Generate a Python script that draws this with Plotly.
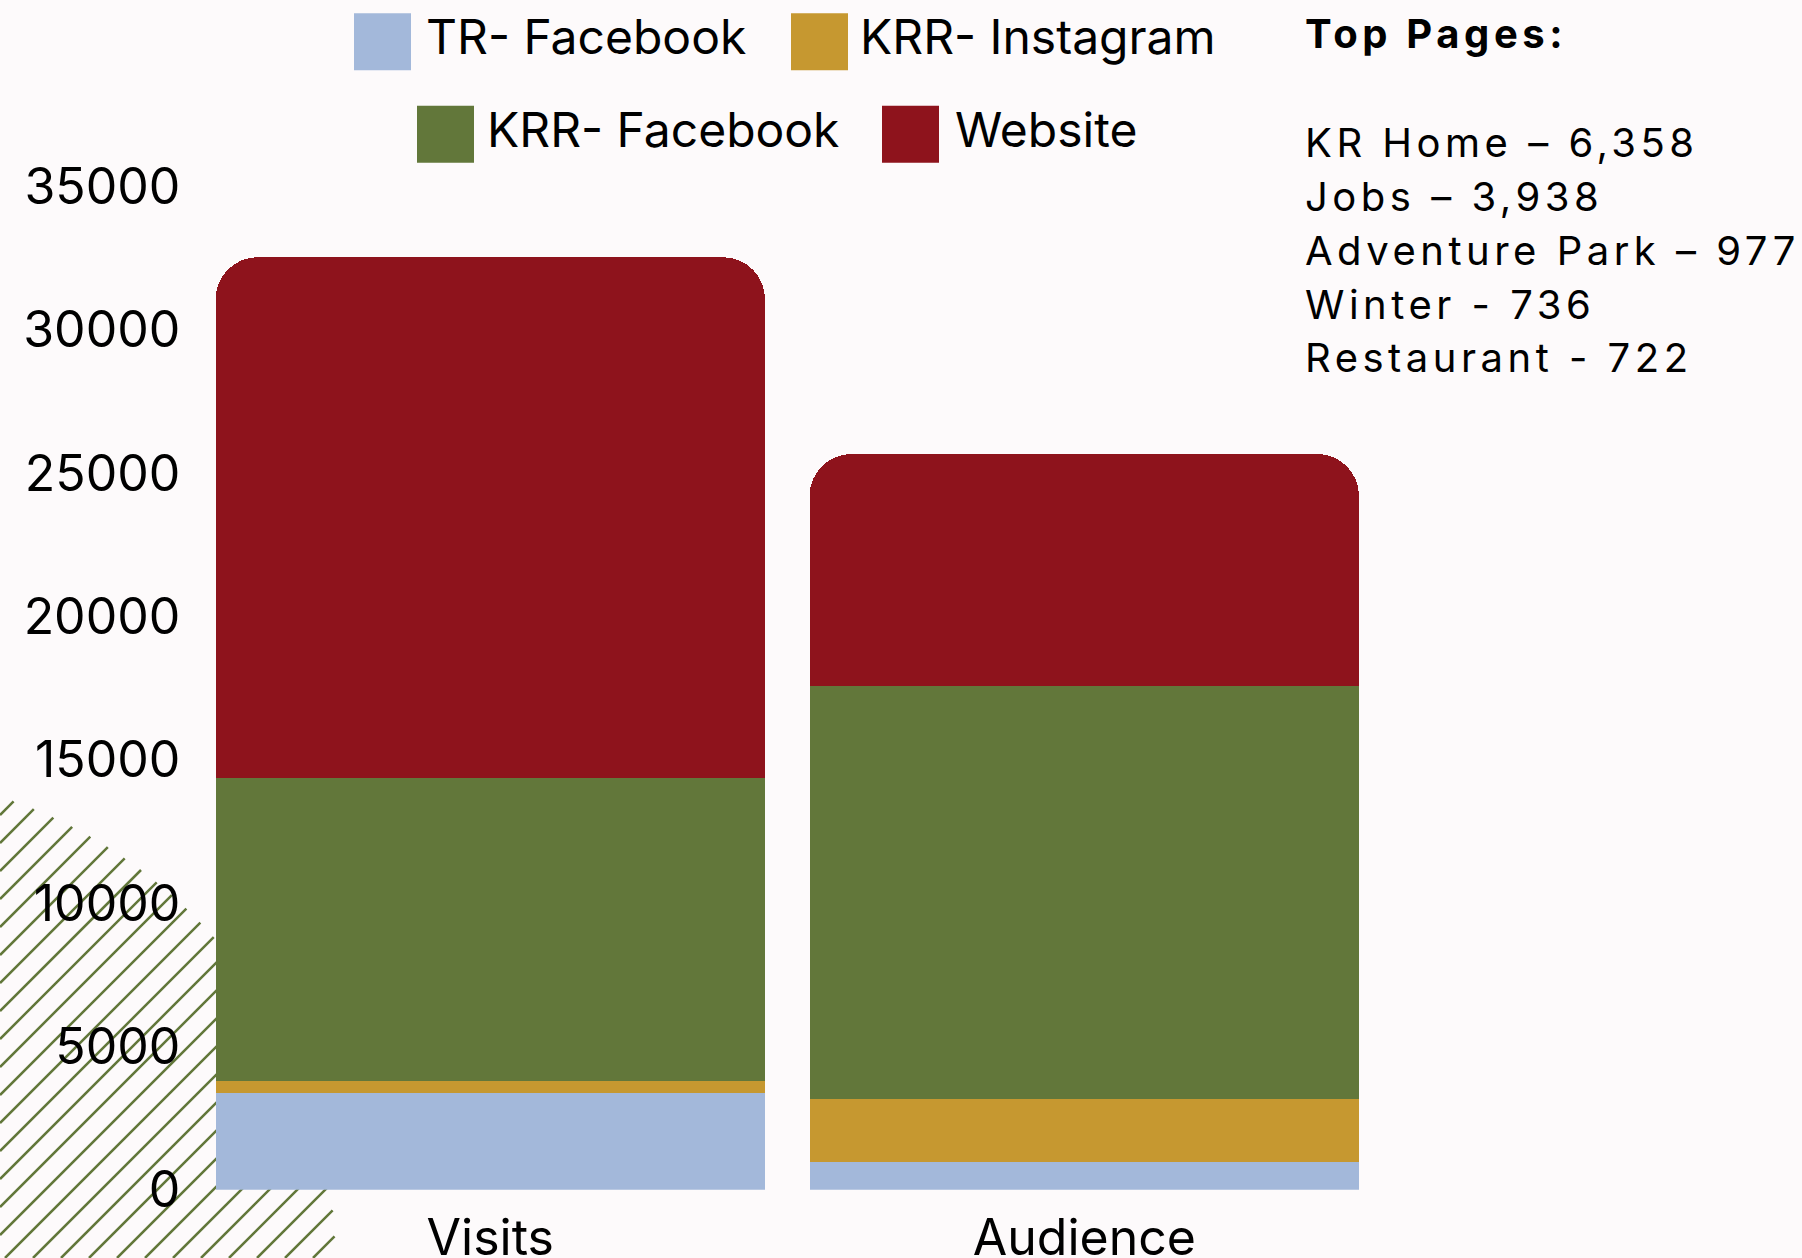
import numpy as np
import plotly.graph_objects as go

# ---------------- data ----------------
categories = ["Visits", "Audience"]
series_names = ["TR- Facebook", "KRR- Instagram", "KRR- Facebook", "Website"]
tr_facebook = [3375, 977]
krr_instagram = [420, 2190]
krr_facebook = [10580, 14410]
website = [18160, 8095]
y_tick_values = [0, 5000, 10000, 15000, 20000, 25000, 30000, 35000]
top_pages_title = "Top Pages:"
top_pages = [
    "KR Home \u2013 6,358",
    "Jobs \u2013 3,938",
    "Adventure Park \u2013 977",
    "Winter - 736",
    "Restaurant - 722",
]

# ---------------- style ----------------
W, H = 1802, 1258
BG = "#FDFAFB"
colors = ["#A3B8DA", "#C69830", "#62773A", "#8E131C"]
HATCH = "#62773A"
FONT = "Inter"

def px(x):
    return x / W

def py(y):
    return 1 - y / H

series_values = [tr_facebook, krr_instagram, krr_facebook, website]

fig = go.Figure()
for name, vals, col in zip(series_names, series_values, colors):
    fig.add_trace(go.Bar(
        x=categories, y=vals, name=name,
        marker=dict(color=col, line=dict(width=0)),
        showlegend=False,
    ))

# plot area in pixels
PL, PR, PT, PB = 193.3, 1381.3, 186.6, 1189.7

shapes = []
annotations = []

# ---- hatched quarter-circle decoration (bottom-left) ----
cx, cy, r = -150.0, 1258.0, 485.0
spacing = 28.0
path = []
for c in np.arange(1258 + 5 - 28 * 30, 1258 + 400, spacing):
    # line: x + y = c  (screen coords)
    k = c - cy - cx  # v = k - u  with u=x-cx, v=y-cy
    disc = 2 * r * r - k * k
    if disc <= 0:
        continue
    u1 = (k - np.sqrt(disc)) / 2
    u2 = (k + np.sqrt(disc)) / 2
    ulo = max(u1, k, 0 - cx)
    uhi = u2
    if uhi <= ulo:
        continue
    xa, xb = ulo + cx, uhi + cx
    ya, yb = c - xa, c - xb
    path.append(f"M{px(xa):.5f},{py(ya):.5f}L{px(xb):.5f},{py(yb):.5f}")
shapes.append(dict(type="path", xref="paper", yref="paper", path="".join(path),
                   line=dict(color=HATCH, width=2.5), layer="below"))

# ---- manual legend ----
sw_left = [354, 791, 417, 882]
row_y = [41.7, 41.7, 134.2, 134.2]
text_left = [424, 858, 485, 953]
SW = 57
for i, name in enumerate(series_names):
    shapes.append(dict(type="rect", xref="paper", yref="paper",
                       x0=px(sw_left[i]), x1=px(sw_left[i] + SW),
                       y0=py(row_y[i] + SW / 2), y1=py(row_y[i] - SW / 2),
                       fillcolor=colors[i], line=dict(width=0), layer="above"))
    annotations.append(dict(xref="paper", yref="paper", x=px(text_left[i]), y=py(row_y[i] - 5),
                            xanchor="left", yanchor="middle", showarrow=False,
                            text=name, font=dict(family=FONT, size=48, color="#000000")))

# ---- top pages text ----
annotations.append(dict(xref="paper", yref="paper", x=px(1303), y=py(33),
                        xanchor="left", yanchor="middle", showarrow=False,
                        text=f"<span style='letter-spacing:4.6px'><b>{top_pages_title}</b></span>",
                        font=dict(family=FONT, size=40, color="#000000")))
line_y = [142.2, 196.5, 250.5, 304.5, 357.8]
for t, yy in zip(top_pages, line_y):
    annotations.append(dict(xref="paper", yref="paper", x=px(1303), y=py(yy),
                            xanchor="left", yanchor="middle", showarrow=False,
                            text=f"<span style='letter-spacing:4.5px'>{t}</span>",
                            font=dict(family=FONT, size=40, color="#000000")))

fig.update_layout(
    width=W, height=H,
    margin=dict(l=0, r=0, t=0, b=0, pad=0),
    paper_bgcolor=BG, plot_bgcolor=BG,
    barmode="stack", bargap=0.075, barcornerradius=42,
    shapes=shapes, annotations=annotations,
    showlegend=False,
    xaxis=dict(domain=[px(PL), px(PR)], type="category", range=[-0.5, 1.5],
               showgrid=False, zeroline=False, showline=False, ticks="",
               ticklabelstandoff=14, automargin=False,
               tickfont=dict(family=FONT, size=50, color="#000000")),
    yaxis=dict(domain=[py(PB), py(PT)], range=[0, 35000],
               tickvals=y_tick_values, tickformat="d",
               showgrid=False, zeroline=False, showline=False, ticks="",
               ticklabelstandoff=12, automargin=False,
               tickfont=dict(family=FONT, size=50, color="#000000")),
)

fig.write_html("out.html")
